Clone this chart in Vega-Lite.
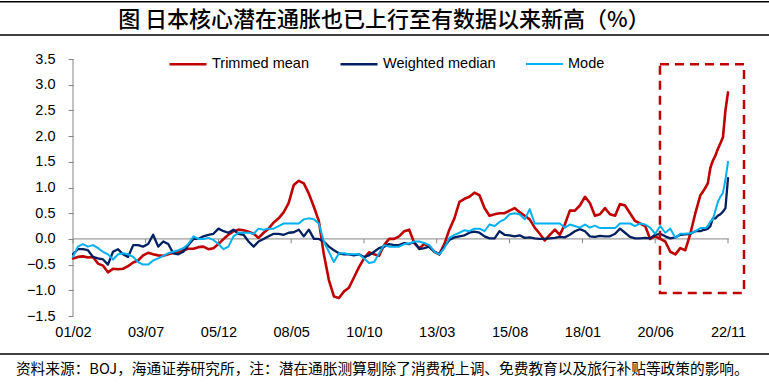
{
  "$schema": "https://vega.github.io/schema/vega-lite/v6.json",
  "width": 769,
  "height": 385,
  "padding": 0,
  "autosize": {"type": "none"},
  "background": "white",
  "config": {"view": {"stroke": null}, "font": "Liberation Sans"},
  "resolve": {"axis": {"x": "independent", "y": "independent"}},
  "datasets": {
    "series": [
      {"date":"2001-02-01","Trimmed mean":-0.38,"Weighted median":-0.30,"Mode":-0.35},
      {"date":"2001-04-01","Trimmed mean":-0.35,"Weighted median":-0.20,"Mode":-0.15},
      {"date":"2001-06-01","Trimmed mean":-0.34,"Weighted median":-0.20,"Mode":-0.10},
      {"date":"2001-08-01","Trimmed mean":-0.36,"Weighted median":-0.22,"Mode":-0.15},
      {"date":"2001-10-01","Trimmed mean":-0.35,"Weighted median":-0.35,"Mode":-0.12},
      {"date":"2001-12-01","Trimmed mean":-0.48,"Weighted median":-0.38,"Mode":-0.18},
      {"date":"2002-02-01","Trimmed mean":-0.52,"Weighted median":-0.40,"Mode":-0.25},
      {"date":"2002-04-01","Trimmed mean":-0.65,"Weighted median":-0.50,"Mode":-0.30},
      {"date":"2002-06-01","Trimmed mean":-0.58,"Weighted median":-0.25,"Mode":-0.40},
      {"date":"2002-08-01","Trimmed mean":-0.59,"Weighted median":-0.20,"Mode":-0.30},
      {"date":"2002-10-01","Trimmed mean":-0.58,"Weighted median":-0.30,"Mode":-0.28},
      {"date":"2002-12-01","Trimmed mean":-0.53,"Weighted median":-0.35,"Mode":-0.30},
      {"date":"2003-02-01","Trimmed mean":-0.46,"Weighted median":-0.12,"Mode":-0.35},
      {"date":"2003-04-01","Trimmed mean":-0.42,"Weighted median":-0.12,"Mode":-0.45},
      {"date":"2003-06-01","Trimmed mean":-0.32,"Weighted median":-0.15,"Mode":-0.50},
      {"date":"2003-08-01","Trimmed mean":-0.27,"Weighted median":-0.10,"Mode":-0.50},
      {"date":"2003-10-01","Trimmed mean":-0.30,"Weighted median":0.08,"Mode":-0.42},
      {"date":"2003-12-01","Trimmed mean":-0.32,"Weighted median":-0.15,"Mode":-0.38},
      {"date":"2004-02-01","Trimmed mean":-0.33,"Weighted median":-0.05,"Mode":-0.33},
      {"date":"2004-04-01","Trimmed mean":-0.30,"Weighted median":-0.10,"Mode":-0.28},
      {"date":"2004-06-01","Trimmed mean":-0.27,"Weighted median":-0.28,"Mode":-0.25},
      {"date":"2004-08-01","Trimmed mean":-0.25,"Weighted median":-0.30,"Mode":-0.22},
      {"date":"2004-10-01","Trimmed mean":-0.22,"Weighted median":-0.25,"Mode":-0.18},
      {"date":"2004-12-01","Trimmed mean":-0.19,"Weighted median":-0.12,"Mode":-0.10},
      {"date":"2005-02-01","Trimmed mean":-0.19,"Weighted median":0.00,"Mode":0.05},
      {"date":"2005-04-01","Trimmed mean":-0.16,"Weighted median":0.00,"Mode":0.00},
      {"date":"2005-06-01","Trimmed mean":-0.15,"Weighted median":0.05,"Mode":0.00},
      {"date":"2005-08-01","Trimmed mean":-0.20,"Weighted median":0.08,"Mode":0.02},
      {"date":"2005-10-01","Trimmed mean":-0.18,"Weighted median":0.10,"Mode":-0.02},
      {"date":"2005-12-01","Trimmed mean":-0.10,"Weighted median":0.20,"Mode":-0.10},
      {"date":"2006-02-01","Trimmed mean":0.00,"Weighted median":0.15,"Mode":-0.20},
      {"date":"2006-04-01","Trimmed mean":0.08,"Weighted median":0.12,"Mode":-0.15},
      {"date":"2006-06-01","Trimmed mean":0.15,"Weighted median":0.18,"Mode":0.05},
      {"date":"2006-08-01","Trimmed mean":0.18,"Weighted median":0.10,"Mode":0.12},
      {"date":"2006-10-01","Trimmed mean":0.17,"Weighted median":0.08,"Mode":0.12},
      {"date":"2006-12-01","Trimmed mean":0.14,"Weighted median":-0.05,"Mode":0.12},
      {"date":"2007-02-01","Trimmed mean":0.10,"Weighted median":-0.15,"Mode":0.10},
      {"date":"2007-04-01","Trimmed mean":0.02,"Weighted median":-0.05,"Mode":0.20},
      {"date":"2007-06-01","Trimmed mean":0.12,"Weighted median":0.00,"Mode":0.18},
      {"date":"2007-08-01","Trimmed mean":0.20,"Weighted median":0.05,"Mode":0.20},
      {"date":"2007-10-01","Trimmed mean":0.32,"Weighted median":0.10,"Mode":0.20},
      {"date":"2007-12-01","Trimmed mean":0.40,"Weighted median":0.10,"Mode":0.25},
      {"date":"2008-02-01","Trimmed mean":0.52,"Weighted median":0.08,"Mode":0.30},
      {"date":"2008-04-01","Trimmed mean":0.70,"Weighted median":0.12,"Mode":0.30},
      {"date":"2008-06-01","Trimmed mean":1.05,"Weighted median":0.13,"Mode":0.30},
      {"date":"2008-08-01","Trimmed mean":1.13,"Weighted median":0.18,"Mode":0.30},
      {"date":"2008-10-01","Trimmed mean":1.08,"Weighted median":0.05,"Mode":0.38},
      {"date":"2008-12-01","Trimmed mean":0.88,"Weighted median":0.18,"Mode":0.40},
      {"date":"2009-02-01","Trimmed mean":0.62,"Weighted median":0.00,"Mode":0.38},
      {"date":"2009-04-01","Trimmed mean":0.35,"Weighted median":0.00,"Mode":0.30},
      {"date":"2009-06-01","Trimmed mean":-0.30,"Weighted median":-0.05,"Mode":-0.05},
      {"date":"2009-08-01","Trimmed mean":-0.80,"Weighted median":-0.15,"Mode":-0.25},
      {"date":"2009-10-01","Trimmed mean":-1.12,"Weighted median":-0.22,"Mode":-0.45},
      {"date":"2009-12-01","Trimmed mean":-1.15,"Weighted median":-0.28,"Mode":-0.28},
      {"date":"2010-02-01","Trimmed mean":-1.02,"Weighted median":-0.30,"Mode":-0.28},
      {"date":"2010-04-01","Trimmed mean":-0.95,"Weighted median":-0.30,"Mode":-0.30},
      {"date":"2010-06-01","Trimmed mean":-0.75,"Weighted median":-0.32,"Mode":-0.30},
      {"date":"2010-08-01","Trimmed mean":-0.55,"Weighted median":-0.30,"Mode":-0.30},
      {"date":"2010-10-01","Trimmed mean":-0.38,"Weighted median":-0.35,"Mode":-0.38},
      {"date":"2010-12-01","Trimmed mean":-0.26,"Weighted median":-0.32,"Mode":-0.47},
      {"date":"2011-02-01","Trimmed mean":-0.30,"Weighted median":-0.25,"Mode":-0.45},
      {"date":"2011-04-01","Trimmed mean":-0.33,"Weighted median":-0.18,"Mode":-0.28},
      {"date":"2011-06-01","Trimmed mean":-0.12,"Weighted median":-0.15,"Mode":-0.12},
      {"date":"2011-08-01","Trimmed mean":0.00,"Weighted median":-0.10,"Mode":-0.15},
      {"date":"2011-10-01","Trimmed mean":0.00,"Weighted median":-0.12,"Mode":-0.15},
      {"date":"2011-12-01","Trimmed mean":0.05,"Weighted median":-0.12,"Mode":-0.15},
      {"date":"2012-02-01","Trimmed mean":0.15,"Weighted median":-0.08,"Mode":-0.10},
      {"date":"2012-04-01","Trimmed mean":0.18,"Weighted median":-0.10,"Mode":-0.09},
      {"date":"2012-06-01","Trimmed mean":-0.08,"Weighted median":-0.06,"Mode":-0.05},
      {"date":"2012-08-01","Trimmed mean":-0.18,"Weighted median":-0.20,"Mode":-0.05},
      {"date":"2012-10-01","Trimmed mean":-0.10,"Weighted median":-0.18,"Mode":-0.08},
      {"date":"2012-12-01","Trimmed mean":-0.15,"Weighted median":-0.15,"Mode":-0.12},
      {"date":"2013-02-01","Trimmed mean":-0.25,"Weighted median":-0.25,"Mode":-0.25},
      {"date":"2013-04-01","Trimmed mean":-0.30,"Weighted median":-0.30,"Mode":-0.30},
      {"date":"2013-06-01","Trimmed mean":-0.10,"Weighted median":-0.15,"Mode":-0.18},
      {"date":"2013-08-01","Trimmed mean":0.18,"Weighted median":-0.02,"Mode":0.02},
      {"date":"2013-10-01","Trimmed mean":0.40,"Weighted median":0.03,"Mode":0.08},
      {"date":"2013-12-01","Trimmed mean":0.72,"Weighted median":0.05,"Mode":0.12},
      {"date":"2014-02-01","Trimmed mean":0.78,"Weighted median":0.07,"Mode":0.17},
      {"date":"2014-04-01","Trimmed mean":0.82,"Weighted median":0.12,"Mode":0.15},
      {"date":"2014-06-01","Trimmed mean":0.90,"Weighted median":0.14,"Mode":0.20},
      {"date":"2014-08-01","Trimmed mean":0.85,"Weighted median":0.12,"Mode":0.20},
      {"date":"2014-10-01","Trimmed mean":0.60,"Weighted median":0.05,"Mode":0.15},
      {"date":"2014-12-01","Trimmed mean":0.45,"Weighted median":0.01,"Mode":0.28},
      {"date":"2015-02-01","Trimmed mean":0.48,"Weighted median":0.01,"Mode":0.25},
      {"date":"2015-04-01","Trimmed mean":0.50,"Weighted median":0.15,"Mode":0.33},
      {"date":"2015-06-01","Trimmed mean":0.50,"Weighted median":0.08,"Mode":0.38},
      {"date":"2015-08-01","Trimmed mean":0.55,"Weighted median":0.07,"Mode":0.48},
      {"date":"2015-10-01","Trimmed mean":0.60,"Weighted median":0.05,"Mode":0.50},
      {"date":"2015-12-01","Trimmed mean":0.52,"Weighted median":0.07,"Mode":0.48},
      {"date":"2016-02-01","Trimmed mean":0.45,"Weighted median":0.02,"Mode":0.38},
      {"date":"2016-04-01","Trimmed mean":0.38,"Weighted median":0.03,"Mode":0.58},
      {"date":"2016-06-01","Trimmed mean":0.22,"Weighted median":0.01,"Mode":0.30},
      {"date":"2016-08-01","Trimmed mean":0.10,"Weighted median":0.00,"Mode":0.30},
      {"date":"2016-10-01","Trimmed mean":-0.03,"Weighted median":0.00,"Mode":0.30},
      {"date":"2016-12-01","Trimmed mean":0.08,"Weighted median":0.01,"Mode":0.30},
      {"date":"2017-02-01","Trimmed mean":0.18,"Weighted median":0.02,"Mode":0.30},
      {"date":"2017-04-01","Trimmed mean":0.08,"Weighted median":0.04,"Mode":0.30},
      {"date":"2017-06-01","Trimmed mean":0.28,"Weighted median":0.03,"Mode":0.22},
      {"date":"2017-08-01","Trimmed mean":0.55,"Weighted median":0.08,"Mode":0.28},
      {"date":"2017-10-01","Trimmed mean":0.55,"Weighted median":0.15,"Mode":0.25},
      {"date":"2017-12-01","Trimmed mean":0.65,"Weighted median":0.19,"Mode":0.22},
      {"date":"2018-02-01","Trimmed mean":0.82,"Weighted median":0.15,"Mode":0.28},
      {"date":"2018-04-01","Trimmed mean":0.70,"Weighted median":0.05,"Mode":0.22},
      {"date":"2018-06-01","Trimmed mean":0.45,"Weighted median":0.04,"Mode":0.26},
      {"date":"2018-08-01","Trimmed mean":0.48,"Weighted median":0.06,"Mode":0.21},
      {"date":"2018-10-01","Trimmed mean":0.60,"Weighted median":0.05,"Mode":0.21},
      {"date":"2018-12-01","Trimmed mean":0.48,"Weighted median":0.05,"Mode":0.21},
      {"date":"2019-02-01","Trimmed mean":0.45,"Weighted median":0.10,"Mode":0.21},
      {"date":"2019-04-01","Trimmed mean":0.68,"Weighted median":0.20,"Mode":0.30},
      {"date":"2019-06-01","Trimmed mean":0.65,"Weighted median":0.12,"Mode":0.30},
      {"date":"2019-08-01","Trimmed mean":0.50,"Weighted median":0.04,"Mode":0.30},
      {"date":"2019-10-01","Trimmed mean":0.35,"Weighted median":0.01,"Mode":0.25},
      {"date":"2019-12-01","Trimmed mean":0.30,"Weighted median":0.01,"Mode":0.30},
      {"date":"2020-02-01","Trimmed mean":0.25,"Weighted median":0.02,"Mode":0.28},
      {"date":"2020-04-01","Trimmed mean":0.00,"Weighted median":0.01,"Mode":0.22},
      {"date":"2020-06-01","Trimmed mean":0.05,"Weighted median":0.08,"Mode":0.10},
      {"date":"2020-08-01","Trimmed mean":0.00,"Weighted median":0.10,"Mode":0.25},
      {"date":"2020-10-01","Trimmed mean":-0.05,"Weighted median":0.05,"Mode":0.12},
      {"date":"2020-12-01","Trimmed mean":-0.25,"Weighted median":0.01,"Mode":0.20},
      {"date":"2021-02-01","Trimmed mean":-0.30,"Weighted median":0.03,"Mode":0.02},
      {"date":"2021-04-01","Trimmed mean":-0.18,"Weighted median":0.08,"Mode":0.10},
      {"date":"2021-06-01","Trimmed mean":-0.22,"Weighted median":0.09,"Mode":0.10},
      {"date":"2021-08-01","Trimmed mean":0.10,"Weighted median":0.10,"Mode":0.11},
      {"date":"2021-10-01","Trimmed mean":0.50,"Weighted median":0.15,"Mode":0.15},
      {"date":"2021-12-01","Trimmed mean":0.85,"Weighted median":0.15,"Mode":0.21},
      {"date":"2022-01-01","Trimmed mean":0.92,"Weighted median":0.17,"Mode":0.21},
      {"date":"2022-02-01","Trimmed mean":1.00,"Weighted median":0.18,"Mode":0.21},
      {"date":"2022-03-01","Trimmed mean":1.08,"Weighted median":0.20,"Mode":0.25},
      {"date":"2022-04-01","Trimmed mean":1.38,"Weighted median":0.25,"Mode":0.34},
      {"date":"2022-05-01","Trimmed mean":1.52,"Weighted median":0.40,"Mode":0.38},
      {"date":"2022-06-01","Trimmed mean":1.62,"Weighted median":0.40,"Mode":0.55},
      {"date":"2022-07-01","Trimmed mean":1.75,"Weighted median":0.45,"Mode":0.72},
      {"date":"2022-08-01","Trimmed mean":1.86,"Weighted median":0.48,"Mode":0.82},
      {"date":"2022-09-01","Trimmed mean":1.98,"Weighted median":0.53,"Mode":0.90},
      {"date":"2022-10-01","Trimmed mean":2.50,"Weighted median":0.60,"Mode":1.15},
      {"date":"2022-11-01","Trimmed mean":2.85,"Weighted median":1.18,"Mode":1.50}
    ],
    "ticks": [
      {"d":"2001-02-01"},{"d":"2003-07-01"},{"d":"2005-12-01"},{"d":"2008-05-01"},{"d":"2010-10-01"},
      {"d":"2013-03-01"},{"d":"2015-08-01"},{"d":"2018-01-01"},{"d":"2020-06-01"},{"d":"2022-11-01"}
    ],
    "frameLines": [
      {"level": 4.615}, {"level": 3.967}, {"level": -2.239}
    ],
    "highlight": [
      {"start":"2020-07-29","end":"2023-05-14","low":-1.05,"high":3.4}
    ]
  },
  "layer": [
    {
      "data": {"name": "frameLines"},
      "mark": {"type": "rule", "color": "#000000", "strokeWidth": 1.5},
      "encoding": {
        "y": {"field": "level", "type": "quantitative", "axis": null,
              "scale": {"domain": [-2.842, 4.648], "nice": false, "zero": false}}
      }
    },
    {
      "data": {"values": [{}]},
      "mark": {"type": "text", "text": "图  日本核心潜在通胀也已上行至有数据以来新高（%）", "font": "Noto Sans CJK SC", "fontSize": 22, "fontWeight": 500, "align": "center", "baseline": "middle", "color": "#000000"},
      "encoding": {
        "x": {"datum": {"year": 2011, "month": 5, "date": 31, "utc": true}, "type": "temporal", "axis": null,
              "scale": {"type": "utc", "domain": [904499967025, 1710218484273]}},
        "y": {"datum": 4.268, "type": "quantitative", "axis": null,
              "scale": {"domain": [-2.842, 4.648], "nice": false, "zero": false}}
      }
    },
    {
      "data": {"values": [{}]},
      "mark": {"type": "text", "text": "资料来源：BOJ，海通证券研究所，注：潜在通胀测算剔除了消费税上调、免费教育以及旅行补贴等政策的影响。", "font": "Noto Sans CJK SC", "fontSize": 14.7, "align": "left", "baseline": "middle", "color": "#000000"},
      "encoding": {
        "x": {"datum": {"year": 1999, "month": 3, "date": 12, "utc": true}, "type": "temporal", "axis": null,
              "scale": {"type": "utc", "domain": [904499967025, 1710218484273]}},
        "y": {"datum": -2.541, "type": "quantitative", "axis": null,
              "scale": {"domain": [-2.842, 4.648], "nice": false, "zero": false}}
      }
    },
    {
      "data": {"values": [{}]},
      "mark": {"type": "rule", "color": "#868686", "strokeWidth": 1},
      "encoding": {
        "x": {"datum": {"year": 2001, "month": 2, "date": 1, "utc": true}, "type": "temporal", "axis": null,
              "scale": {"type": "utc", "domain": [904499967025, 1710218484273]}},
        "x2": {"datum": {"year": 2022, "month": 11, "date": 10, "utc": true}},
        "y": {"datum": 0, "type": "quantitative", "axis": null,
              "scale": {"domain": [-2.842, 4.648], "nice": false, "zero": false}}
      }
    },
    {
      "data": {"values": [{}]},
      "mark": {"type": "rule", "color": "#868686", "strokeWidth": 1},
      "encoding": {
        "x": {"datum": {"year": 2001, "month": 2, "date": 1, "utc": true}, "type": "temporal", "axis": null,
              "scale": {"type": "utc", "domain": [904499967025, 1710218484273]}},
        "y": {"datum": -1.5, "type": "quantitative", "axis": null,
              "scale": {"domain": [-2.842, 4.648], "nice": false, "zero": false}},
        "y2": {"datum": 3.5}
      }
    },
    {
      "data": {"name": "ticks"},
      "mark": {"type": "rule", "color": "#868686", "strokeWidth": 1},
      "encoding": {
        "x": {"field": "d", "type": "temporal",
              "scale": {"type": "utc", "domain": [904499967025, 1710218484273]},
              "axis": {"orient": "bottom", "offset": -69, "title": null, "domain": false, "ticks": false, "grid": false,
                       "values": [
                         {"year": 2001, "month": 2, "date": 1, "utc": true},
                         {"year": 2003, "month": 7, "date": 1, "utc": true},
                         {"year": 2005, "month": 12, "date": 1, "utc": true},
                         {"year": 2008, "month": 5, "date": 1, "utc": true},
                         {"year": 2010, "month": 10, "date": 1, "utc": true},
                         {"year": 2013, "month": 3, "date": 1, "utc": true},
                         {"year": 2015, "month": 8, "date": 1, "utc": true},
                         {"year": 2018, "month": 1, "date": 1, "utc": true},
                         {"year": 2020, "month": 6, "date": 1, "utc": true},
                         {"year": 2022, "month": 11, "date": 1, "utc": true}
                       ],
                       "labelExpr": "utcFormat(datum.value, '%y/%m')", "labelPadding": 9, "labelFont": "Liberation Sans", "labelFontSize": 14.5,
                       "labelColor": "#000000", "labelFlush": false, "labelOverlap": false}},
        "y": {"datum": 0, "type": "quantitative", "axis": null,
              "scale": {"domain": [-2.842, 4.648], "nice": false, "zero": false}},
        "y2": {"datum": -0.085}
      }
    },
    {
      "data": {"name": "series"},
      "transform": [
        {"fold": ["Trimmed mean", "Weighted median", "Mode"], "as": ["series", "value"]}
      ],
      "mark": {"type": "line", "strokeJoin": "round", "strokeCap": "round"},
      "encoding": {
        "x": {"field": "date", "type": "temporal", "axis": null,
              "scale": {"type": "utc", "domain": [904499967025, 1710218484273]}},
        "y": {"field": "value", "type": "quantitative",
              "scale": {"domain": [-2.842, 4.648], "nice": false, "zero": false},
              "axis": {"orient": "left", "offset": -73, "title": null, "domain": false, "grid": false,
                       "values": [-1.5, -1, -0.5, 0, 0.5, 1, 1.5, 2, 2.5, 3, 3.5], "format": ".1f",
                       "tickSize": 5, "tickColor": "#868686", "tickWidth": 1, "labelPadding": 13,
                       "labelFont": "Liberation Sans", "labelFontSize": 14.5, "labelColor": "#000000"}},
        "color": {"field": "series", "type": "nominal",
                  "scale": {"domain": ["Trimmed mean", "Weighted median", "Mode"], "range": ["#C00000", "#002060", "#00B0F0"]},
                  "legend": {"orient": "none", "legendX": 168, "legendY": 44, "direction": "horizontal", "title": null,
                             "symbolType": "stroke", "symbolSize": 1369, "symbolStrokeWidth": 2.2,
                             "labelFont": "Liberation Sans", "labelFontSize": 14.5, "labelColor": "#000000",
                             "labelOffset": 4, "columnPadding": 26, "padding": 0}},
        "strokeWidth": {"field": "series", "type": "nominal", "legend": null,
                        "scale": {"domain": ["Trimmed mean", "Weighted median", "Mode"], "range": [2.6, 2, 2]}}
      }
    },
    {
      "data": {"name": "highlight"},
      "mark": {"type": "rect", "fill": null, "fillOpacity": 0, "stroke": "#C00000", "strokeWidth": 2.5, "strokeDash": [9, 6]},
      "encoding": {
        "x": {"field": "start", "type": "temporal", "axis": null,
              "scale": {"type": "utc", "domain": [904499967025, 1710218484273]}},
        "x2": {"field": "end"},
        "y": {"field": "high", "type": "quantitative", "axis": null,
              "scale": {"domain": [-2.842, 4.648], "nice": false, "zero": false}},
        "y2": {"field": "low"}
      }
    }
  ]
}
